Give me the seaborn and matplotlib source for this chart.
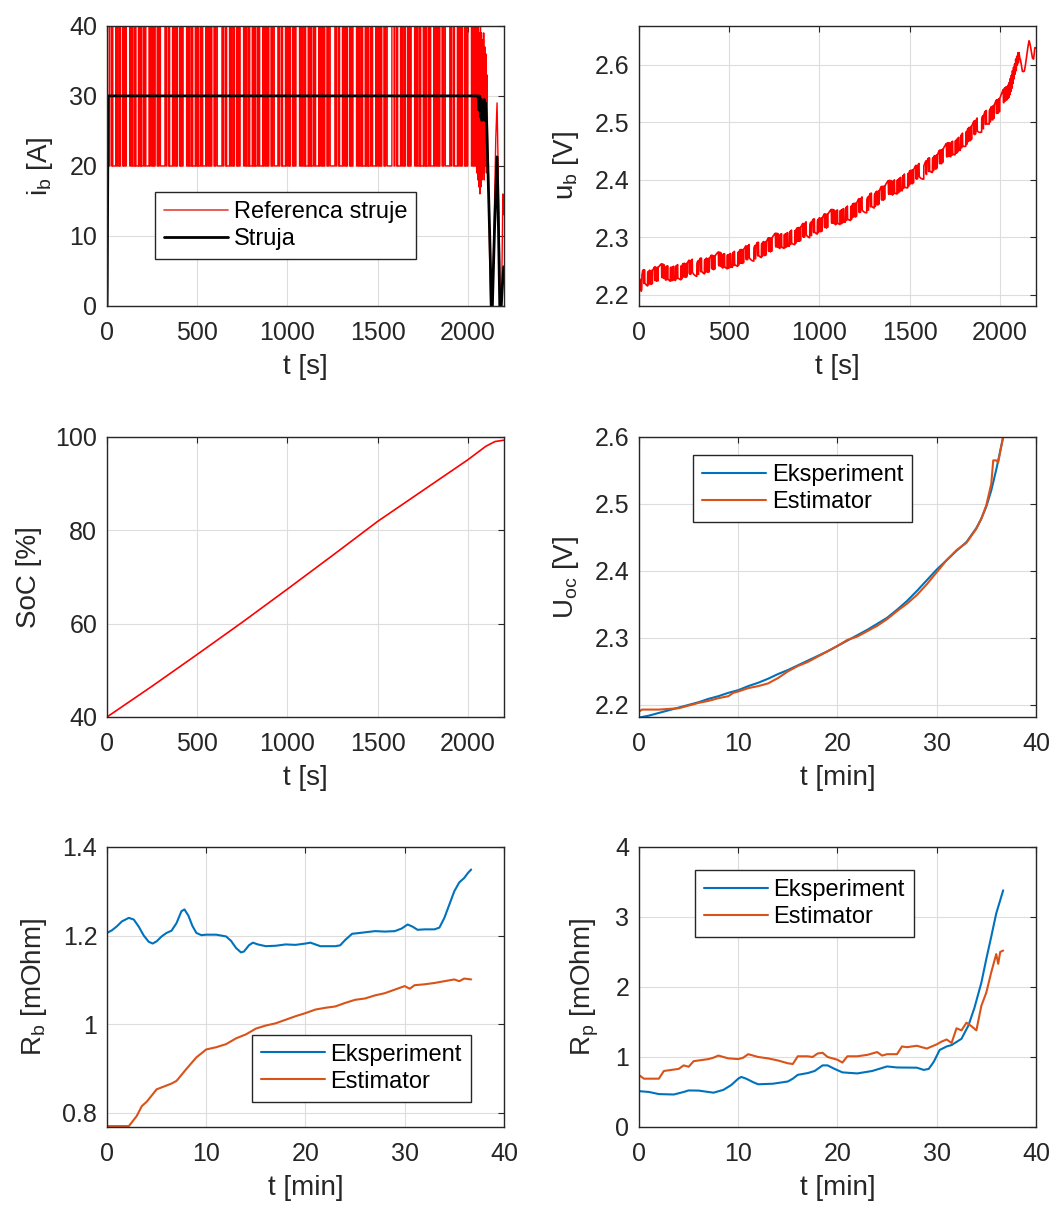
import numpy as np
import matplotlib
matplotlib.use("Agg")
import matplotlib.pyplot as plt
from matplotlib.ticker import FormatStrFormatter
import seaborn as sns

# ------------------------------------------------------------------ data
# Current reference (A): PRBS-like switching between 40 and 20 A.
prbs_levels = [40, 20]
prbs_durations = [6, 4, 10, 3, 3, 16, 4, 3, 5, 8, 3, 4, 12, 3, 3, 6, 4, 3, 20, 3,
                  5, 4, 3, 9, 4, 3, 3, 14, 3, 6, 3, 4, 3, 10, 5, 3, 4, 18, 3, 3,
                  6, 4, 3, 8, 3, 3, 12, 4, 3, 3, 8, 26]
block_starts = [6, 321, 637, 947, 1263, 1585, 1900]
block_end = 2040
ref_head_t = [0, 1]
ref_head_i = [3, 40]
ref_tail_t = [2040, 2043, 2046, 2049, 2052, 2055, 2058, 2061, 2064, 2067, 2070, 2073,
              2076, 2079, 2082, 2085, 2088, 2091, 2094, 2097, 2100, 2103, 2106, 2110,
              2114, 2119, 2125, 2136, 2146, 2155, 2162, 2168, 2175, 2181, 2187, 2194, 2200]
ref_tail_i = [40, 20, 40, 19, 40, 18, 40, 17, 39, 16, 40, 17,
              39, 18, 38, 19, 39, 18, 37, 20, 36, 19, 33, 22,
              19, 10, 0, 0, 12, 24, 29, 20, 8, 0, 0, 16, 13]

# Measured current (A)
cur_t = [0, 1, 6, 2057, 2062, 2066, 2070, 2074, 2078, 2082, 2086, 2090, 2094, 2098,
         2103, 2107, 2114, 2121, 2131, 2136, 2148, 2162, 2170, 2177, 2185, 2192, 2199]
cur_i = [0, 3, 30, 30, 28, 30, 27, 29.5, 26.5, 29, 27, 29.5, 26.5, 29,
         27, 23.7, 17, 10.4, 0, 0, 11, 21.3, 11, 0, 0, 3, 5.6]

# Battery voltage mean level (V) and ripple gains
ub_t = [0, 20, 100, 200, 300, 400, 500, 600, 700, 800, 900, 1000, 1100, 1200, 1300,
        1400, 1500, 1600, 1700, 1800, 1900, 2000, 2050, 2100, 2150, 2200]
ub_mean = [2.195, 2.228, 2.236, 2.241, 2.248, 2.255, 2.262, 2.272, 2.283, 2.296, 2.309,
           2.323, 2.336, 2.350, 2.366, 2.385, 2.405, 2.422, 2.445, 2.472, 2.500, 2.530,
           2.555, 2.615, 2.650, 2.665]
ub_r_ohm = 0.0011   # V/A
ub_r_pol = 0.0009   # V/A
ub_tau = 18.0       # s

# State of charge (%)
soc_t = [0, 250, 500, 750, 1000, 1250, 1500, 1750, 2000, 2100, 2150, 2200]
soc_v = [40, 46.6, 53.4, 60.3, 67.4, 74.6, 81.9, 88.5, 95.1, 98.0, 99.0, 99.3]

# Open-circuit voltage (V) vs time (min)
uoc_exp_t = [0, 1, 2, 3, 4, 5, 6, 7, 8, 9, 10, 11, 12, 13, 14, 15, 16, 17, 18, 19, 20,
             21, 22, 23, 24, 25, 26, 27, 28, 29, 30, 31, 32, 33, 34, 34.5, 35, 35.5,
             36, 36.3, 36.7]
uoc_exp_v = [2.181, 2.184, 2.188, 2.192, 2.196, 2.200, 2.204, 2.209, 2.213, 2.218, 2.222,
             2.228, 2.233, 2.239, 2.246, 2.252, 2.259, 2.266, 2.273, 2.280, 2.288, 2.296,
             2.304, 2.312, 2.321, 2.330, 2.342, 2.355, 2.370, 2.386, 2.402, 2.416, 2.430,
             2.443, 2.464, 2.478, 2.496, 2.520, 2.551, 2.572, 2.600]
uoc_est_t = [0, 0.3, 1, 2, 3, 4, 5, 6, 7, 8, 9, 9.5, 10, 11, 12, 13, 14, 15, 16, 17, 18,
             19, 20, 21, 22, 23, 24, 25, 26, 27, 28, 29, 30, 31, 32, 33, 34, 34.5, 35,
             35.5, 35.7, 36, 36.2, 36.5, 36.7]
uoc_est_v = [2.190, 2.193, 2.193, 2.193, 2.194, 2.195, 2.199, 2.203, 2.206, 2.210, 2.213,
             2.218, 2.220, 2.225, 2.228, 2.232, 2.240, 2.250, 2.258, 2.264, 2.272, 2.280,
             2.288, 2.297, 2.302, 2.310, 2.318, 2.328, 2.340, 2.351, 2.364, 2.380, 2.398,
             2.416, 2.431, 2.442, 2.463, 2.478, 2.498, 2.530, 2.565, 2.565, 2.562, 2.585,
             2.600]

# Series resistance (mOhm)
rb_exp_t = [0, 0.5, 1, 1.5, 2.2, 2.7, 3.2, 3.7, 4.2, 4.6, 5.0, 5.5, 6, 6.5, 7, 7.5, 7.8,
            8.2, 8.6, 9, 9.5, 10, 11, 12, 12.5, 13, 13.5, 13.8, 14.3, 14.7, 15.2, 16, 17,
            18, 19, 20, 20.5, 21, 21.5, 23, 23.5, 24, 24.7, 25.5, 27, 28, 29, 29.7, 30.3,
            30.8, 31.3, 32, 33, 33.5, 34, 34.5, 35, 35.5, 36, 36.4, 36.7]
rb_exp_v = [1.206, 1.212, 1.221, 1.232, 1.240, 1.236, 1.220, 1.200, 1.186, 1.182, 1.187,
            1.198, 1.206, 1.211, 1.228, 1.255, 1.259, 1.245, 1.222, 1.206, 1.201, 1.202,
            1.202, 1.198, 1.188, 1.172, 1.162, 1.164, 1.178, 1.184, 1.180, 1.176, 1.177,
            1.180, 1.179, 1.182, 1.184, 1.180, 1.176, 1.176, 1.178, 1.190, 1.204, 1.206,
            1.210, 1.209, 1.210, 1.216, 1.225, 1.220, 1.213, 1.214, 1.214, 1.218, 1.240,
            1.270, 1.300, 1.320, 1.330, 1.342, 1.349]
rb_est_t = [0, 2.2, 3, 3.5, 4, 5, 6.5, 7, 8, 9, 10, 11, 12, 13, 14, 15, 16, 17, 18, 19,
            20, 21, 22, 23, 24, 25, 26, 27, 28, 29, 30, 30.5, 31, 32, 33, 34, 35, 35.5,
            36, 36.7]
rb_est_v = [0.770, 0.770, 0.793, 0.815, 0.825, 0.853, 0.866, 0.872, 0.899, 0.925, 0.943,
            0.948, 0.955, 0.968, 0.977, 0.990, 0.997, 1.002, 1.010, 1.018, 1.025, 1.033,
            1.037, 1.040, 1.048, 1.055, 1.058, 1.065, 1.070, 1.078, 1.086, 1.080, 1.088,
            1.090, 1.093, 1.097, 1.101, 1.097, 1.103, 1.101]

# Polarisation resistance (mOhm)
rp_exp_t = [0, 1, 2, 3.5, 4.5, 5, 6, 7, 7.5, 8.5, 9.3, 10, 10.3, 10.8, 11.5, 12, 13.5, 15,
            15.5, 16, 17, 17.7, 18.5, 19, 19.7, 20.5, 22, 23.5, 25, 26, 28, 28.7, 29.2,
            29.7, 30.3, 31, 31.5, 32.5, 33.2, 33.8, 34.5, 35, 35.5, 36, 36.7]
rp_exp_v = [0.512, 0.500, 0.470, 0.464, 0.500, 0.522, 0.520, 0.500, 0.490, 0.530, 0.600,
            0.690, 0.715, 0.690, 0.640, 0.610, 0.618, 0.650, 0.690, 0.745, 0.770, 0.800,
            0.880, 0.880, 0.830, 0.780, 0.765, 0.800, 0.865, 0.850, 0.847, 0.815, 0.830,
            0.930, 1.100, 1.150, 1.170, 1.260, 1.450, 1.700, 2.060, 2.400, 2.720, 3.050,
            3.380]
rp_est_t = [0, 0.5, 1, 2, 2.5, 3, 4, 4.5, 5, 5.5, 6, 7, 7.5, 8, 9, 10, 10.5, 11, 12, 13,
            14, 15, 15.5, 16, 17, 17.5, 18, 18.5, 19, 20, 20.5, 21, 22, 23, 24, 24.5, 25,
            26, 26.5, 27, 28, 29, 30, 30.5, 31, 31.5, 32, 32.5, 33, 33.5, 34, 34.5, 35,
            35.5, 36, 36.2, 36.4, 36.7]
rp_est_v = [0.74, 0.69, 0.69, 0.69, 0.80, 0.81, 0.83, 0.88, 0.86, 0.94, 0.95, 0.97, 0.99,
            1.02, 0.98, 0.97, 0.99, 1.04, 1.00, 0.98, 0.95, 0.91, 0.90, 1.01, 1.01, 1.00,
            1.05, 1.06, 1.00, 0.96, 0.92, 1.01, 1.01, 1.03, 1.07, 1.02, 1.04, 1.04, 1.15,
            1.14, 1.16, 1.12, 1.18, 1.22, 1.25, 1.20, 1.41, 1.38, 1.49, 1.44, 1.38, 1.73,
            1.92, 2.21, 2.47, 2.33, 2.50, 2.52]

# ------------------------------------------------------------------ build reference step signal
sw_t = list(ref_head_t)
sw_i = list(ref_head_i)
for b, start in enumerate(block_starts):
    end = block_starts[b + 1] if b + 1 < len(block_starts) else block_end
    tt, k = start, 0
    while tt < end and k < len(prbs_durations):
        sw_t.append(tt)
        sw_i.append(prbs_levels[k % 2])
        tt += prbs_durations[k]
        k += 1
    if tt < end:
        sw_t.append(tt)
        sw_i.append(prbs_levels[k % 2])

ref_x, ref_y = [sw_t[0]], [sw_i[0]]
for k in range(1, len(sw_t)):
    ref_x += [sw_t[k], sw_t[k]]
    ref_y += [sw_i[k - 1], sw_i[k]]
ref_x += [block_end] + ref_tail_t
ref_y += [sw_i[-1]] + ref_tail_i
ref_x = np.array(ref_x, float)
ref_y = np.array(ref_y, float)

# sampled reference current for the voltage ripple
t_s = np.arange(0, 2201, 1.0)
idx = np.searchsorted(np.array(sw_t), t_s, side="right") - 1
i_s = np.array(sw_i, float)[np.clip(idx, 0, None)]
tail_mask = t_s >= block_end
i_s[tail_mask] = np.interp(t_s[tail_mask], ref_tail_t, ref_tail_i)
ub = np.interp(t_s, ub_t, ub_mean)
pol = 0.0
u_b = np.empty_like(t_s)
for k in range(len(t_s)):
    di = i_s[k] - 30.0
    pol += (di * ub_r_pol - pol) / ub_tau
    u_b[k] = ub[k] + ub_r_ohm * di + pol

# ------------------------------------------------------------------ style
sns.set_style("white")
plt.rcParams["font.family"] = ["Liberation Sans", "DejaVu Sans"]
plt.rcParams["mathtext.fontset"] = "custom"
plt.rcParams["mathtext.rm"] = "Liberation Sans"
plt.rcParams["mathtext.it"] = "Liberation Sans:italic"

DARK = "#262626"
RED = "#FF0000"
BLUE = "#0072BD"
ORANGE = "#D95319"

fig = plt.figure(figsize=(10.64, 12.16), dpi=100)
fig.patch.set_facecolor("white")
Ls = [0.1006, 0.6006]
Bs = [0.7484, 0.4104, 0.0732]
W, H = 0.373, 0.2303
axs = [[fig.add_axes([Ls[c], Bs[r], W, H]) for c in range(2)] for r in range(3)]


def style(ax, xlim, xticks, ylim, yticks, xlabel, ylabel):
    ax.set_xlim(xlim)
    ax.set_xticks(xticks)
    ax.set_ylim(ylim)
    ax.set_yticks(yticks)
    ax.xaxis.set_major_formatter(FormatStrFormatter("%g"))
    ax.yaxis.set_major_formatter(FormatStrFormatter("%g"))
    ax.grid(True, color="#dddddd", linewidth=0.8)
    ax.set_axisbelow(True)
    for s in ax.spines.values():
        s.set_color(DARK)
        s.set_linewidth(1.0)
        s.set_visible(True)
    ax.tick_params(direction="in", length=4, width=0.8, top=True, right=True,
                   colors=DARK, labelsize=18)
    ax.tick_params(axis="x", pad=11)
    ax.tick_params(axis="y", pad=7)
    ax.set_xlabel(xlabel, fontsize=20, color=DARK, labelpad=6)
    ax.set_ylabel(ylabel, fontsize=20, color=DARK, labelpad=10)


def legend(ax, x0, ytop):
    leg = ax.legend(loc="upper left", bbox_to_anchor=(x0, ytop), frameon=True,
                    fancybox=False, edgecolor=DARK, framealpha=1, fontsize=17,
                    handlelength=2.7, handletextpad=0.25, borderpad=0.38,
                    labelspacing=0.22, borderaxespad=0)
    leg.get_frame().set_linewidth(1.0)
    for txt in leg.get_texts():
        txt.set_color("black")
    return leg


# Panel 1: current
ax = axs[0][0]
sns.lineplot(x=ref_x, y=ref_y, ax=ax, color=RED, linewidth=1.0, estimator=None,
             sort=False, label="Referenca struje")
sns.lineplot(x=np.array(cur_t, float), y=np.array(cur_i, float), ax=ax, color="black",
             linewidth=2.0, estimator=None, sort=False, label="Struja")
style(ax, (0, 2200), [0, 500, 1000, 1500, 2000], (0, 40), [0, 10, 20, 30, 40],
      "t [s]", r"$\mathregular{i_b}$ [A]")
leg = legend(ax, 0.121, 0.407)
leg.get_lines()[0].set_linewidth(1.2)
leg.get_lines()[0].set_color("#e8403a")

# Panel 2: voltage
ax = axs[0][1]
sns.lineplot(x=t_s, y=u_b, ax=ax, color=RED, linewidth=1.2, estimator=None, sort=False)
style(ax, (0, 2200), [0, 500, 1000, 1500, 2000], (2.181, 2.667),
      [2.2, 2.3, 2.4, 2.5, 2.6], "t [s]", r"$\mathregular{u_b}$ [V]")

# Panel 3: SoC
ax = axs[1][0]
sns.lineplot(x=np.array(soc_t, float), y=np.array(soc_v, float), ax=ax, color=RED,
             linewidth=1.2, estimator=None, sort=False)
style(ax, (0, 2200), [0, 500, 1000, 1500, 2000], (40, 100), [40, 60, 80, 100],
      "t [s]", "SoC [%]")

# Panel 4: Uoc
ax = axs[1][1]
sns.lineplot(x=np.array(uoc_exp_t), y=np.array(uoc_exp_v), ax=ax, color=BLUE,
             linewidth=1.5, estimator=None, sort=False, label="Eksperiment")
sns.lineplot(x=np.array(uoc_est_t), y=np.array(uoc_est_v), ax=ax, color=ORANGE,
             linewidth=1.5, estimator=None, sort=False, label="Estimator")
style(ax, (0, 40), [0, 10, 20, 30, 40], (2.182, 2.6), [2.2, 2.3, 2.4, 2.5, 2.6],
      "t [min]", r"$\mathregular{U_{oc}}$ [V]")
legend(ax, 0.136, 0.936)

# Panel 5: Rb
ax = axs[2][0]
sns.lineplot(x=np.array(rb_exp_t), y=np.array(rb_exp_v), ax=ax, color=BLUE,
             linewidth=1.5, estimator=None, sort=False, label="Eksperiment")
sns.lineplot(x=np.array(rb_est_t), y=np.array(rb_est_v), ax=ax, color=ORANGE,
             linewidth=1.5, estimator=None, sort=False, label="Estimator")
style(ax, (0, 40), [0, 10, 20, 30, 40], (0.768, 1.4), [0.8, 1.0, 1.2, 1.4],
      "t [min]", r"$\mathregular{R_b}$ [mOhm]")
legend(ax, 0.365, 0.33)

# Panel 6: Rp
ax = axs[2][1]
sns.lineplot(x=np.array(rp_exp_t), y=np.array(rp_exp_v), ax=ax, color=BLUE,
             linewidth=1.5, estimator=None, sort=False, label="Eksperiment")
sns.lineplot(x=np.array(rp_est_t), y=np.array(rp_est_v), ax=ax, color=ORANGE,
             linewidth=1.5, estimator=None, sort=False, label="Estimator")
style(ax, (0, 40), [0, 10, 20, 30, 40], (0, 4), [0, 1, 2, 3, 4],
      "t [min]", r"$\mathregular{R_p}$ [mOhm]")
legend(ax, 0.141, 0.918)

fig.savefig("out.png", dpi=100, facecolor="white")
